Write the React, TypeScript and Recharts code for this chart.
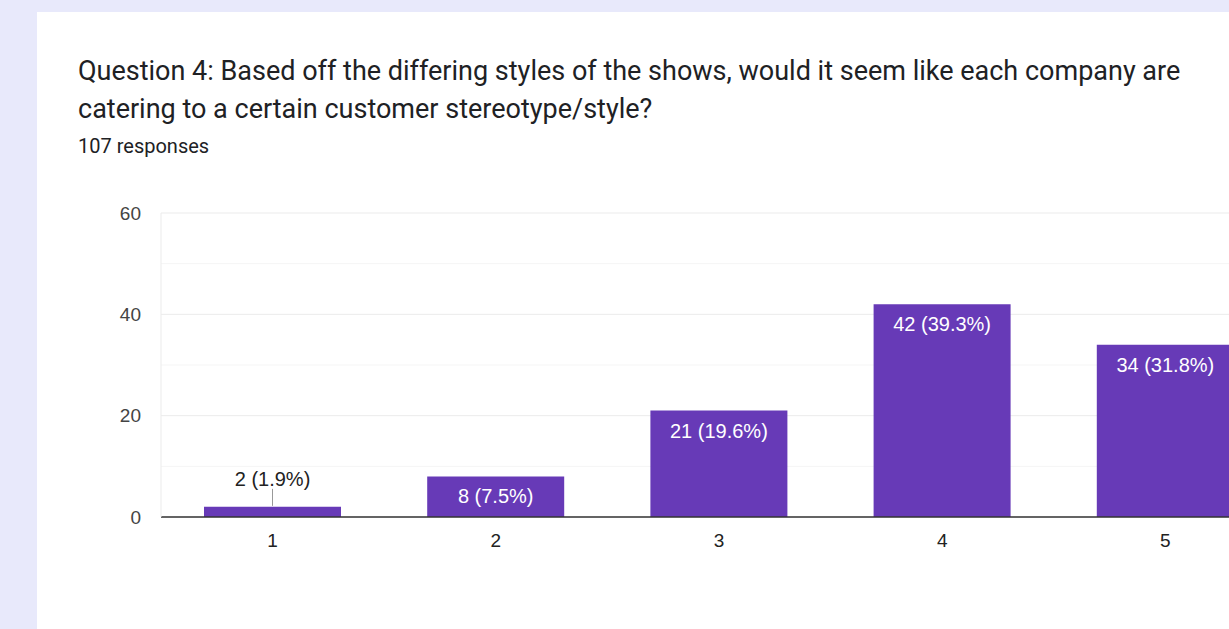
import { Bar, BarChart, CartesianGrid, LabelList, XAxis, YAxis } from 'recharts'

const categories = ['1', '2', '3', '4', '5']
const counts = [2, 8, 21, 42, 34]
const percents = ['1.9%', '7.5%', '19.6%', '39.3%', '31.8%']
// every 10 gets a grid line, only every 20 gets a label
const gridTicks = [0, 10, 20, 30, 40, 50, 60]

const data = categories.map((c, i) => ({ name: c, count: counts[i], label: `${counts[i]} (${percents[i]})` }))

const axisFont = 'Arial, "Liberation Sans", sans-serif'

function BarLabel(props: any) {
  const { x, y, width, height, value } = props
  const cx = x + width / 2
  if (height < 30) {
    return (
      <g>
        <line x1={cx} x2={cx} y1={y - 1} y2={y - 18} stroke="#999" strokeWidth={1} />
        <text x={cx} y={y - 28} textAnchor="middle" dominantBaseline="central" fill="#222" fontSize={20} fontFamily={axisFont}>
          {value}
        </text>
      </g>
    )
  }
  return (
    <text x={cx} y={y + 20} textAnchor="middle" dominantBaseline="central" fill="#fff" fontSize={20} fontFamily={axisFont}>
      {value}
    </text>
  )
}

function YTick(props: any) {
  const { x, y, payload } = props
  if (payload.value % 20 !== 0) return null
  return (
    <text x={x} y={y} textAnchor="end" dominantBaseline="central" fill="#444" fontSize={19} fontFamily={axisFont}>
      {payload.value}
    </text>
  )
}

function GridLine(props: any) {
  const { x1, x2, y1, y2, index } = props
  return <line x1={x1} x2={x2} y1={y1} y2={y2} stroke={index % 2 === 0 ? '#ebebeb' : '#f5f5f5'} strokeWidth={1} />
}

export default function App() {
  return (
    <div style={{ position: 'fixed', left: 0, top: 0, width: 1229, height: 629, overflow: 'hidden', background: '#e8e9fb' }}>
      <div style={{ position: 'absolute', left: 37, top: 12, width: 1260, height: 700, background: '#fff' }}>
        <div
          style={{
            position: 'absolute',
            left: 41,
            top: 40,
            width: 1130,
            fontFamily: 'Roboto, sans-serif',
            fontSize: 27,
            lineHeight: '38px',
            color: '#202124',
          }}
        >
          Question 4: Based off the differing styles of the shows, would it seem like each company are catering to a certain customer stereotype/style?
        </div>
        <div style={{ position: 'absolute', left: 41, top: 122, fontFamily: 'Roboto, sans-serif', fontSize: 20, color: '#202124' }}>
          107 responses
        </div>
        <div style={{ position: 'absolute', left: 0, top: 0 }}>
          <BarChart width={1252} height={565} data={data} margin={{ top: 201, right: 12, left: 64, bottom: 20 }}>
            <CartesianGrid vertical={false} horizontal={GridLine} />
            <XAxis
              dataKey="name"
              axisLine={{ stroke: '#333', strokeWidth: 1.5 }}
              tickLine={false}
              tickSize={0}
              tickMargin={17}
              height={40}
              tick={{ fill: '#222', fontSize: 19, fontFamily: axisFont }}
            />
            <YAxis
              domain={[0, 60]}
              ticks={gridTicks}
              width={60}
              axisLine={{ stroke: '#ebebeb' }}
              tickLine={false}
              tickSize={0}
              tickMargin={20}
              tick={YTick}
            />
            <Bar dataKey="count" fill="#673ab7" barSize={137} isAnimationActive={false}>
              <LabelList dataKey="label" content={BarLabel} />
            </Bar>
          </BarChart>
        </div>
      </div>
    </div>
  )
}
